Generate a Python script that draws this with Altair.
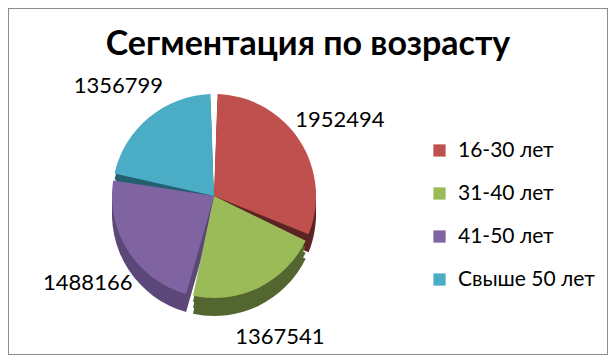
import altair as alt
import pandas as pd

categories = ["16-30 лет", "31-40 лет", "41-50 лет", "Свыше 50 лет"]
values = [1952494, 1367541, 1488166, 1356799]
order_idx = [0, 1, 2, 3]
top_colors = ["#C0504D", "#9BBB59", "#8064A2", "#4BACC6"]
side_colors = ["#5A2422", "#536630", "#5C4878", "#245F70"]
title_text = "Сегментация по возрасту"

df = pd.DataFrame({"cat": categories, "value": values, "idx": order_idx})

FONT = "Lato"
CX, CY, R, DEPTH = 206, 188, 102, 18

base = alt.Chart(df).encode(
    theta=alt.Theta("value:Q", stack=True),
    order=alt.Order("idx:Q"),
)

side_layers = []
for k in (3, 2, 1):
    side_layers.append(
        base.mark_arc(outerRadius=R, padAngle=0.07, stroke=None).encode(
            x=alt.value(CX), y=alt.value(CY + DEPTH * k / 3),
            color=alt.Color("cat:N", scale=alt.Scale(domain=categories, range=side_colors), legend=None),
        )
    )

top = base.mark_arc(outerRadius=R, padAngle=0.07, stroke=None).encode(
    x=alt.value(CX), y=alt.value(CY),
    color=alt.Color(
        "cat:N",
        scale=alt.Scale(domain=categories, range=top_colors),
        legend=alt.Legend(
            title=None, orient="none", legendX=421, legendY=132,
            symbolType="square", symbolSize=150, symbolStrokeWidth=0,
            labelFont=FONT, labelFontSize=21, labelColor="#000000",
            rowPadding=21, labelOffset=8,
        ),
    ),
)

labels = base.mark_text(radius=150, font=FONT, fontSize=22, color="#000000").encode(
    x=alt.value(CX), y=alt.value(CY + 6),
    text=alt.Text("value:Q", format="d"),
)

title = alt.Chart(pd.DataFrame({"t": [title_text]})).mark_text(
    font=FONT, fontSize=34, fontWeight="bold", color="#000000", baseline="alphabetic"
).encode(text="t:N", x=alt.value(300), y=alt.value(47))

chart = alt.layer(*side_layers, top, labels, title).resolve_scale(color="independent").properties(
    width=600, height=347, padding=0, autosize=alt.AutoSizeParams(type="none"), background="white"
).configure_view(stroke="#8c8c8c", strokeWidth=2)

chart.save("out.html", embed_options={"renderer": "svg", "actions": False})
